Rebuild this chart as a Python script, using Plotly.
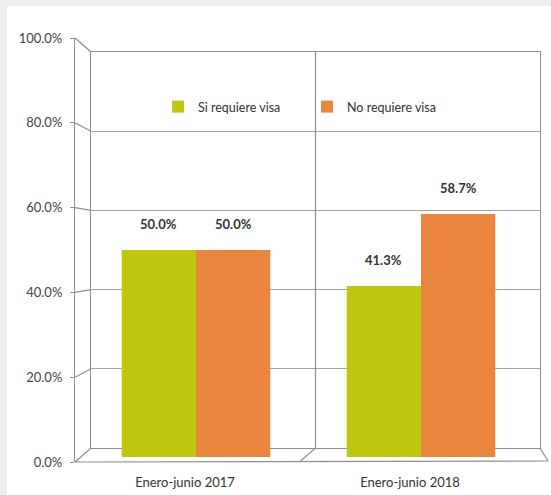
import plotly.graph_objects as go

categories = ["Enero-junio 2017", "Enero-junio 2018"]
si_requiere = [50.0, 41.3]
no_requiere = [50.0, 58.7]
series_names = ["Si requiere visa", "No requiere visa"]
tick_values = [0, 20, 40, 60, 80, 100]

W, H = 551, 495
def px(x): return x / W
def py(y): return 1 - y / H

GREEN = "#c0c70f"
ORANGE = "#e9853d"
LINE = "#8f8f8f"
FONT = "Lato"

back_x = [px(91), px(540)]
back_y = [py(448), py(52)]
front_y = [py(462), py(38)]
front_x = px(75)
bar_x = [px(83.5), px(533.5)]
bar_y = [py(457), py(43)]

fig = go.Figure()
fig.add_trace(go.Scatter(x=[], y=[], xaxis="x", yaxis="y", showlegend=False, hoverinfo="skip"))
fig.add_trace(go.Scatter(x=[], y=[], xaxis="x3", yaxis="y3", showlegend=False, hoverinfo="skip"))
fig.add_trace(go.Bar(x=categories, y=si_requiere, name=series_names[0], xaxis="x2", yaxis="y2",
                     marker=dict(color=GREEN, line=dict(width=0))))
fig.add_trace(go.Bar(x=categories, y=no_requiere, name=series_names[1], xaxis="x2", yaxis="y2",
                     marker=dict(color=ORANGE, line=dict(width=0))))

bargap = 0.34
bw = (1 - bargap) / 2
annotations = []
for i, (a, b) in enumerate(zip(si_requiere, no_requiere)):
    for off, v in ((-bw / 2, a), (bw / 2, b)):
        annotations.append(dict(x=i + off, y=v, xref="x2", yref="y2", text=f"{v:.1f}%",
                                showarrow=False, yanchor="bottom", yshift=16,
                                font=dict(family=FONT, size=13, color="#333333", weight="bold")))

shapes = []
shapes.append(dict(type="rect", xref="paper", yref="paper", x0=0, x1=1, y0=py(6), y1=1,
                   fillcolor="#efefef", line=dict(width=0), layer="below"))
shapes.append(dict(type="rect", xref="paper", yref="paper", x0=0, x1=px(7), y0=0, y1=1,
                   fillcolor="#efefef", line=dict(width=0), layer="below"))
for t in tick_values:
    fy = front_y[0] + (front_y[1] - front_y[0]) * t / 100
    by = back_y[0] + (back_y[1] - back_y[0]) * t / 100
    shapes.append(dict(type="line", xref="paper", yref="paper", x0=front_x, y0=fy, x1=back_x[0], y1=by,
                       line=dict(color=LINE, width=1.2)))
shapes.append(dict(type="line", xref="paper", yref="paper", x0=front_x, y0=front_y[0], x1=px(548), y1=py(461),
                   line=dict(color=LINE, width=1.2)))
shapes.append(dict(type="line", xref="paper", yref="paper", x0=back_x[1], y0=back_y[0], x1=px(548), y1=py(461),
                   line=dict(color=LINE, width=1.2)))
mid = (back_x[0] + back_x[1]) / 2
shapes.append(dict(type="line", xref="paper", yref="paper", x0=mid, y0=back_y[0], x1=mid, y1=back_y[1],
                   line=dict(color=LINE, width=1.2)))
shapes.append(dict(type="line", xref="paper", yref="paper", x0=mid, y0=back_y[0], x1=mid - px(16), y1=front_y[0],
                   line=dict(color=LINE, width=1.2)))

fig.update_layout(
    width=W, height=H,
    margin=dict(l=0, r=0, t=0, b=0, pad=0, autoexpand=False),
    paper_bgcolor="white",
    plot_bgcolor="rgba(0,0,0,0)",
    barmode="group", bargap=bargap, bargroupgap=0,
    font=dict(family=FONT, size=12, color="#333333"),
    xaxis=dict(domain=back_x, range=[0, 1], showgrid=False, zeroline=False, showticklabels=False,
               showline=True, mirror=True, linecolor=LINE, linewidth=1.2, fixedrange=True, automargin=False),
    yaxis=dict(domain=back_y, range=[0, 100], tickvals=tick_values, showgrid=True, gridcolor="#a3a3a3",
               gridwidth=1.2, zeroline=False, showticklabels=False, showline=True, mirror=True,
               linecolor=LINE, linewidth=1.2, fixedrange=True, automargin=False),
    xaxis3=dict(domain=[front_x, px(90)], anchor="y3", range=[0, 1], visible=False, fixedrange=True,
                automargin=False),
    yaxis3=dict(domain=front_y, range=[0, 100], anchor="x3", side="left",
                tickvals=tick_values, ticktext=[f"{t:.1f}%" for t in tick_values],
                ticks="outside", ticklen=4, tickcolor=LINE, showline=True, linecolor=LINE, linewidth=1.2,
                showgrid=False, zeroline=False, tickfont=dict(family=FONT, size=13, color="#444444"),
                ticklabelstandoff=5, fixedrange=True, automargin=False),
    xaxis2=dict(domain=bar_x, anchor="free", position=py(461), type="category", range=[-0.5, 1.5],
                showgrid=False, zeroline=False, showline=False, ticks="",
                tickfont=dict(family=FONT, size=13, color="#333333"), ticklabelstandoff=12,
                ticklabelshift=-11, fixedrange=True, automargin=False),
    yaxis2=dict(domain=bar_y, anchor="x2", range=[0, 100], visible=False, fixedrange=True, automargin=False),
    legend=dict(orientation="h", x=px(158), y=py(107), xanchor="left", yanchor="middle",
                bgcolor="rgba(0,0,0,0)", font=dict(family=FONT, size=12.5, color="#333333"),
                entrywidth=104, entrywidthmode="pixels", itemwidth=30),
    annotations=annotations,
    shapes=shapes,
    showlegend=True,
)

fig.write_html("out.html", config={"displayModeBar": False},
               post_script="document.documentElement.style.overflow='hidden';"
                           "document.body.style.overflow='hidden';"
                           "document.body.style.margin='0';document.body.style.background='white';")
